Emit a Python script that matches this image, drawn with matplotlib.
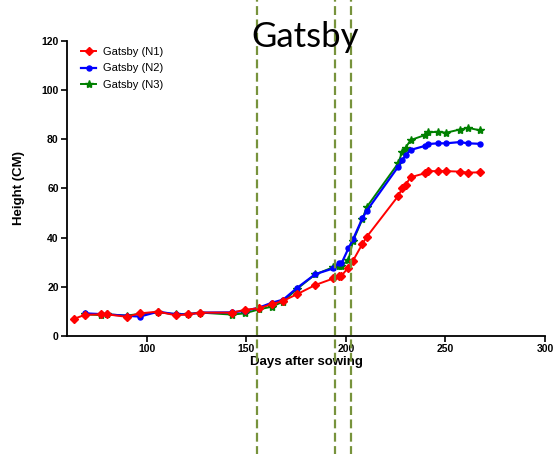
import matplotlib
matplotlib.use("Agg")
import matplotlib.pyplot as plt

days_n1 = [63.6, 69, 77, 80, 90, 96.6, 105.8, 114.6, 120.8, 127, 142.8, 149.2, 156.3, 162.8,
           168.6, 175.3, 184.6, 193.8, 196.6, 197.8, 201.3, 203.6, 208.3, 210.5, 226.3, 228.3,
           230, 232.5, 239.5, 241.2, 246.3, 250.3, 257.2, 261.3, 267.2]
n1 = [7.0, 8.6, 8.8, 8.8, 7.8, 9.2, 9.9, 8.4, 8.8, 9.5, 9.5, 10.6, 11.3, 12.9,
      14.3, 16.9, 20.7, 23.4, 24.4, 24.5, 27.8, 30.6, 37.4, 40.3, 56.9, 60.0,
      61.4, 64.5, 66.1, 67.0, 67.0, 67.0, 66.8, 66.4, 66.5]

days_n23 = [69, 77, 80, 90, 96.6, 105.8, 114.6, 120.8, 127, 142.8, 149.2, 156.3, 162.8,
            168.6, 175.3, 184.6, 193.8, 196.6, 197.8, 201.3, 203.6, 208.3, 210.5, 226.3, 228.3,
            230, 232.5, 239.5, 241.2, 246.3, 250.3, 257.2, 261.3, 267.2]
n2 = [9.2, 8.9, 8.8, 8.2, 7.9, 9.9, 8.8, 8.8, 9.5, 9.6, 10.2, 11.5, 13.5,
      14.8, 19.4, 25.1, 27.5, 29.8, 29.5, 35.6, 39.3, 47.8, 50.9, 68.8, 71.5,
      73.5, 75.6, 77.2, 78.0, 78.3, 78.3, 78.8, 78.3, 78.1]
n3 = [8.8, 8.5, 8.8, 8.3, 9.0, 9.6, 8.9, 8.9, 9.5, 8.7, 9.2, 10.8, 11.9,
      14.0, 19.0, 25.0, 28.0, 28.4, 28.4, 31.0, 38.6, 47.5, 52.4, 70.2, 74.9,
      76.5, 79.6, 81.6, 82.7, 83.0, 82.6, 83.9, 84.6, 83.6]

labels = ["Gatsby (N1)", "Gatsby (N2)", "Gatsby (N3)"]
vlines = [155.3, 194.6, 202.5]

fig = plt.figure(figsize=(5.54, 4.54), dpi=100)
ax = fig.add_axes([67 / 554, (454 - 336) / 454, (545 - 67) / 554, (336 - 40.7) / 454])

ax.plot(days_n1, n1, color="#ff0000", marker="D", ms=3.6, lw=1.4, label=labels[0], zorder=5)
ax.plot(days_n23, n2, color="#0000ff", marker="o", ms=3.6, lw=1.6, label=labels[1], zorder=4)
ax.plot(days_n23, n3, color="#008000", marker="*", ms=6, lw=1.4, label=labels[2], zorder=3)

for v in vlines:
    ax.axvline(v, ymin=-0.45, ymax=1.2, clip_on=False, color="#77933C", lw=1.6,
               ls=(0, (4, 2)), zorder=10)

ax.set_xlim(60, 300)
ax.set_ylim(0, 120)
ax.set_xticks([100, 150, 200, 250, 300])
ax.set_yticks([0, 20, 40, 60, 80, 100, 120])
for s in ["top", "right"]:
    ax.spines[s].set_visible(False)
for s in ["left", "bottom"]:
    ax.spines[s].set_linewidth(1.3)
ax.tick_params(direction="out", length=4, width=1.2, labelsize=7.5, pad=2)
for lab in ax.get_xticklabels() + ax.get_yticklabels():
    lab.set_family("Liberation Sans")
    lab.set_fontweight("bold")

ax.set_xlabel("Days after sowing", family="Liberation Sans", fontweight="bold", fontsize=9.5, labelpad=1)
ax.set_ylabel("Height (CM)", family="Liberation Sans", fontweight="bold", fontsize=9.5, labelpad=12)

leg = ax.legend(loc="upper left", bbox_to_anchor=(0.015, 1.0), frameon=False,
                prop={"family": "Liberation Sans", "size": 8}, handlelength=1.4,
                handletextpad=0.6, labelspacing=0.55, borderaxespad=0.2)

fig.text(305 / 554, 1 - 37 / 454, "Gatsby", family="Lato", fontsize=25, ha="center", va="center")

fig.savefig("out.png", dpi=100)
